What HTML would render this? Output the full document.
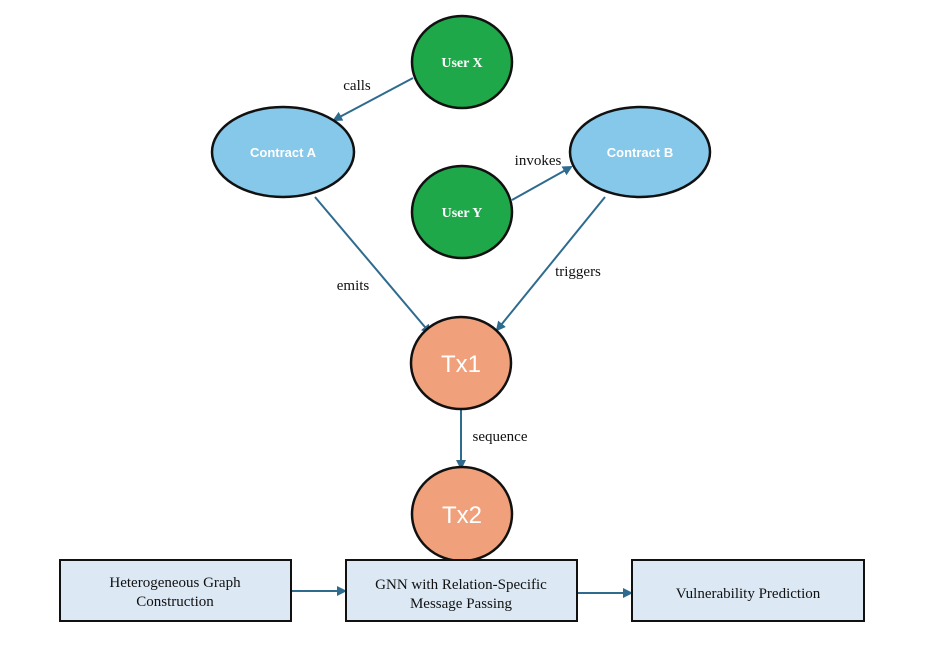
<!DOCTYPE html>
<html><head><meta charset="utf-8"><style>body{margin:0;background:#fff}</style></head><body>
<svg width="934" height="652" xmlns="http://www.w3.org/2000/svg" font-family="Liberation Serif, serif">
<defs><marker id="a" markerWidth="10" markerHeight="10" refX="8" refY="5" orient="auto" markerUnits="userSpaceOnUse"><path d="M0,0 L10,5 L0,10 z" fill="#2e6b8f"/></marker></defs>
<g stroke="#2e6b8f" stroke-width="2" marker-end="url(#a)">
<line x1="413" y1="78" x2="334" y2="120"/>
<line x1="512" y1="200" x2="571" y2="167"/>
<line x1="315" y1="197" x2="430" y2="333"/>
<line x1="605" y1="197" x2="497" y2="330"/>
<line x1="461" y1="410" x2="461" y2="468"/>
<line x1="291" y1="591" x2="345" y2="591"/>
<line x1="577" y1="593" x2="631" y2="593"/>
</g>
<g stroke="#111" stroke-width="2.5">
<ellipse cx="462" cy="62" rx="50" ry="46" fill="#1fa84a"/>
<ellipse cx="283" cy="152" rx="71" ry="45" fill="#86c8ea"/>
<ellipse cx="640" cy="152" rx="70" ry="45" fill="#86c8ea"/>
<ellipse cx="462" cy="212" rx="50" ry="46" fill="#1fa84a"/>
<ellipse cx="461" cy="363" rx="50" ry="46" fill="#f0a07a"/>
<ellipse cx="462" cy="514" rx="50" ry="47" fill="#f0a07a"/>
</g>
<g stroke="#111" stroke-width="2" fill="#dce9f5">
<rect x="60" y="560" width="231" height="61"/>
<rect x="346" y="560" width="231" height="61"/>
<rect x="632" y="560" width="232" height="61"/>
</g>
<g fill="#fff" text-anchor="middle" font-size="14" font-weight="bold">
<text x="462" y="67">User X</text>
<text x="462" y="217">User Y</text>
<text x="283" y="157" font-family="Liberation Sans, sans-serif" font-size="13">Contract A</text>
<text x="640" y="157" font-family="Liberation Sans, sans-serif" font-size="13">Contract B</text>
<text x="461" y="372" font-family="Liberation Sans, sans-serif" font-size="24" font-weight="normal">Tx1</text>
<text x="462" y="523" font-family="Liberation Sans, sans-serif" font-size="24" font-weight="normal">Tx2</text>
</g>
<g fill="#111" font-size="15" text-anchor="middle">
<text x="357" y="90">calls</text>
<text x="538" y="165">invokes</text>
<text x="353" y="290">emits</text>
<text x="578" y="276">triggers</text>
<text x="500" y="441">sequence</text>
<text x="175" y="587">Heterogeneous Graph</text>
<text x="175" y="606">Construction</text>
<text x="461" y="589">GNN with Relation-Specific</text>
<text x="461" y="608">Message Passing</text>
<text x="748" y="598">Vulnerability Prediction</text>
</g>
</svg>
</body></html>
